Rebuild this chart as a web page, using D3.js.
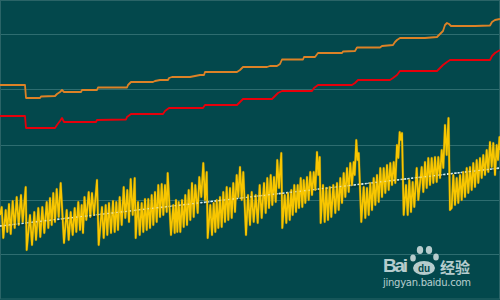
<!DOCTYPE html>
<html>
<head>
<meta charset="utf-8">
<script src="https://cdn.jsdelivr.net/npm/d3@7"></script>
<style>
  html, body { margin: 0; padding: 0; background: #03484c; }
  svg { display: block; }
</style>
</head>
<body>
<svg id="chart" width="500" height="300"></svg>
<script>
// --- chart data (x in days) ---
const gridVals = [46, 100, 155, 211, 266];

const orangePts = [
  [0,215],[25,215],[26,202],[40,202],[41,203.5],[55,204],[57,206],[60,208],[62,210],[64,208],
  [81,208],[82,210],[97,210],[98,212.5],[127,212.5],[128,215],[131,218],[153,218],[155,219],[160,220],
  [168,220],[169,222],[172,223],[190,223],[195,224],[200,225],[204,225],[205,228],[237,228],[240,230],
  [243,233],[267,233],[270,234],[277,234],[280,236],[282,240.5],[303,240.5],[304,243],[315,243],[318,247],
  [342,247],[343,248.5],[355,249],[357,252.5],[380,252.5],[382,254],[393,255],[395,258],[397,260],[400,262],
  [425,262],[437,263],[440,266],[443,269],[445,275],[447,277],[449,276],[451,274],[475,274],[490,274.5],
  [492,278],[495,280],[500,281]
];

const redPts = [
  [0,184],[25,184],[26,172],[55,172],[57,175],[60,179],[62,182],[64,178],[96,178],[97,180],
  [126,180.5],[127,183],[131,186],[163,186],[165,189],[169,192],[203,192],[205,195],[237,195],[240,198],
  [243,201],[272,201],[275,204],[278,207],[282,209],[312,209],[314,212],[318,215],[352,215],[355,217],
  [357,219],[358,220],[390,220],[393,222],[397,225],[400,229],[437,229],[440,232],[443,235],[447,238],
  [450,240],[490,240],[492,244],[495,247],[500,250]
];

const yellowPts = [
  [0,85],
  [1.7,93],[3.3,62],[5.7,90],[7.3,68],[9,96],[10.7,66],[12.7,99],[14.7,72],[16.7,103],[18.7,75],[21,105],[22.7,78],[25.7,113],[26.7,50],
  [30,85],[32,55],[34.3,88],[36,60],[38.3,92],[40.3,63],[42.3,93],[44.3,67],[46.7,98],[48.3,72],[50,102],[51.7,75],[53.3,107],[55,78],[56.7,111],[58.7,83],[60.7,117],[64,57],
  [66.7,90],[68.7,60],[70.7,88],[72.7,65],[74.7,92],[76.3,68],[78.3,98],[80,70],[81.7,95],[83,67],[84.5,103],[86.3,80],[88.7,108],[90.3,83],[92,107],[94,85],[97,120],[98.7,55],
  [102,93],[103.7,62],[105.7,95],[107.3,65],[109,97],[111,67],[113,99],[114.7,68],[116.3,98],[118,70],[119.7,103],[121.7,75],[123.7,113],[125.3,82],[127.3,110],[129,78],[130.7,121],[132.7,85],[134.7,122],[135.7,62],
  [138,98],[139.7,65],[141.7,97],[143.3,68],[145,101],[146.7,70],[148.3,101],[150,72],[151.7,105],[153.3,75],[155,108],[156.7,78],[158.3,115],[160,83],[161.7,116],[163.3,85],[165,115],[166.7,88],[167.7,127],[171,65],
  [173.3,95],[174.7,67],[176,100],[177.3,68],[178.7,98],[180.3,68],[182,100],[183.7,73],[185.3,105],[187,75],[188.7,110],[190.3,80],[192,117],[193.7,83],[195.3,115],[197.7,87],[199.3,123],[201.3,103],[203.3,137],[205,100],[206.7,128],[207.7,62],
  [210.3,95],[212,65],[213.7,97],[215.3,68],[216.7,100],[218.3,72],[220,103],[221.7,73],[223.3,108],[225,78],[226.7,113],[228.3,80],[230,112],[231.7,82],[233.3,117],[235,88],[236.7,125],[238.3,103],[240,133],[241.7,100],[243.3,128],[246,65],
  [248,105],[250,75],[251.7,108],[253.7,78],[255.7,105],[257.7,77],[259.7,115],[261.7,82],[264,117],[265.7,87],[267.3,122],[269,92],[270.7,125],[272.3,95],[274,123],[275.7,98],[277.3,140],[279,112],[281.3,147],[282.3,72],
  [284.7,105],[286.3,77],[288,107],[289.7,80],[291.3,110],[292.7,85],[294.3,115],[296,88],[297.7,115],[299,92],[300.7,122],[302.3,93],[303.7,120],[305.3,97],[307,123],[308.7,100],[310.3,128],[312,105],[313.7,128],[315.3,110],[317,148],[318.3,125],[319.7,143],[320.7,77],
  [323,115],[324.7,78],[326.3,112],[328,80],[329.7,113],[331.3,83],[333.3,115],[335.3,87],[337,117],[338.7,90],[340.3,122],[342,97],[343.7,127],[345.3,103],[347,132],[348.7,108],[350.3,137],[352,115],[353.7,138],[354.7,125],[356.3,160],[357.5,140],[358.7,147],[361.3,78],
  [363.7,113],[365.3,82],[367,112],[368.7,85],[370.3,117],[372,90],[373.7,122],[375.3,95],[377,125],[378.7,98],[380.3,132],[382,103],[383.7,132],[385.3,107],[387,135],[388.7,110],[390.3,137],[392,115],[393.7,138],[395.3,117],[397,155],[398.3,142],[399.7,168],[401,160],[402,167],[403.7,85],
  [406,115],[407.7,85],[409.3,120],[411,88],[412.7,118],[414.3,93],[416.7,132],[418.3,100],[421.7,133],[423.3,108],[425,138],[426.7,112],[428.3,142],[430,115],[431.7,142],[433.3,117],[435,143],[436.7,118],[438.3,143],[440,122],[441.7,150],[443.3,132],[445,175],[446.7,145],[448.5,182],[450,90],
  [451.7,92],[453.3,125],[455,95],[456.7,122],[458.3,97],[460,125],[461.7,100],[463.3,128],[465,103],[466.7,132],[468.3,107],[470,133],[471.7,110],[473.3,137],[475,113],[476.7,140],[478.3,117],[480,142],[481.7,122],[483.3,145],[485,125],[486.7,150],[488.3,128],[490,158],[491.7,133],[493.3,157],[495,125],[496.7,155],[498,140],[499.5,163],[500,150]
];

const trendX = [0, 125, 250, 375, 500];
const trendV = [74, 88.5, 103, 117.5, 132];

// --- setup ---
const width = 500, height = 300;
const svg = d3.select("#chart");

const x = d3.scaleLinear().domain([0, 500]).range([0, width]);
const y = d3.scaleLinear().domain([0, 300]).range([height, 0]);

svg.append("rect")
  .attr("width", width).attr("height", height)
  .attr("fill", "#03484c");

// gridlines via an axis with full-width ticks
svg.append("g")
  .attr("class", "grid")
  .call(d3.axisLeft(y).tickValues(gridVals).tickSize(-width).tickFormat(""))
  .call(g => g.select(".domain").remove())
  .call(g => g.selectAll("line")
    .attr("stroke", "#2e6d70").attr("stroke-width", 1.2));

// frame
svg.append("rect")
  .attr("x", 0.5).attr("y", 0.5)
  .attr("width", width - 1).attr("height", height - 1.5)
  .attr("fill", "none").attr("stroke", "#2a6467").attr("stroke-width", 1);

const line = d3.line().x(d => x(d[0])).y(d => y(d[1]));

// orange and red step lines
svg.append("path").datum(orangePts)
  .attr("d", line).attr("fill", "none")
  .attr("stroke", "#dd8226").attr("stroke-width", 1.8)
  .attr("stroke-linejoin", "round");

svg.append("path").datum(redPts)
  .attr("d", line).attr("fill", "none")
  .attr("stroke", "#e6000b").attr("stroke-width", 1.8)
  .attr("stroke-linejoin", "round");

// dotted trend (drawn under yellow)
const trend = d3.line().x((d, i) => x(trendX[i])).y(d => y(d));
svg.append("path").datum(trendV)
  .attr("d", trend).attr("fill", "none")
  .attr("stroke", "#012f33").attr("stroke-width", 2.5).attr("opacity", 0.5)
  .attr("transform", "translate(0,1.5)");
svg.append("path").datum(trendV)
  .attr("d", trend).attr("fill", "none")
  .attr("stroke", "#d8eef0").attr("stroke-width", 1.6)
  .attr("stroke-dasharray", "2,1.6");

// yellow oscillation
svg.append("path").datum(yellowPts)
  .attr("d", line).attr("fill", "none")
  .attr("stroke", "#a88400").attr("stroke-width", 2.6)
  .attr("stroke-linejoin", "round").attr("opacity", 0.55);
svg.append("path").datum(yellowPts)
  .attr("d", line).attr("fill", "none")
  .attr("stroke", "#f8c600").attr("stroke-width", 1.7)
  .attr("stroke-linejoin", "round");

// trend dots peeking over the yellow
svg.append("path").datum(trendV)
  .attr("d", trend).attr("fill", "none")
  .attr("stroke", "#e6f4f4").attr("stroke-width", 1.2)
  .attr("stroke-dasharray", "1.5,3").attr("opacity", 0.7);

// --- watermark ---
const wm = svg.append("g").attr("fill", "#d6e4e4").attr("opacity", 0.85);
wm.append("text")
  .attr("x", 383).attr("y", 272)
  .attr("font-family", "Arial, 'Liberation Sans', sans-serif")
  .attr("font-weight", "bold").attr("font-size", 19)
  .attr("textLength", 25)
  .text("Bai");
// paw toes
[[413, 258, 2.8], [420, 250, 3.2], [429, 250, 3.2], [436, 257, 2.8]].forEach(t => {
  wm.append("ellipse").attr("cx", t[0]).attr("cy", t[1]).attr("rx", t[2]).attr("ry", t[2] + 0.8);
});
wm.append("ellipse").attr("cx", 424).attr("cy", 268).attr("rx", 11).attr("ry", 7);
wm.append("text")
  .attr("x", 424).attr("y", 271.5).attr("text-anchor", "middle")
  .attr("font-family", "Arial, 'Liberation Sans', sans-serif")
  .attr("font-weight", "bold").attr("font-size", 10)
  .attr("fill", "#03484c")
  .text("du");
wm.append("text")
  .attr("x", 440).attr("y", 273)
  .attr("font-family", "'Noto Sans CJK SC', sans-serif")
  .attr("font-weight", "bold").attr("font-size", 15)
  .text("经验");
wm.append("text")
  .attr("x", 383).attr("y", 286)
  .attr("font-family", "'DejaVu Sans', sans-serif")
  .attr("font-size", 10)
  .attr("textLength", 88)
  .text("jingyan.baidu.com");
</script>
</body>
</html>
